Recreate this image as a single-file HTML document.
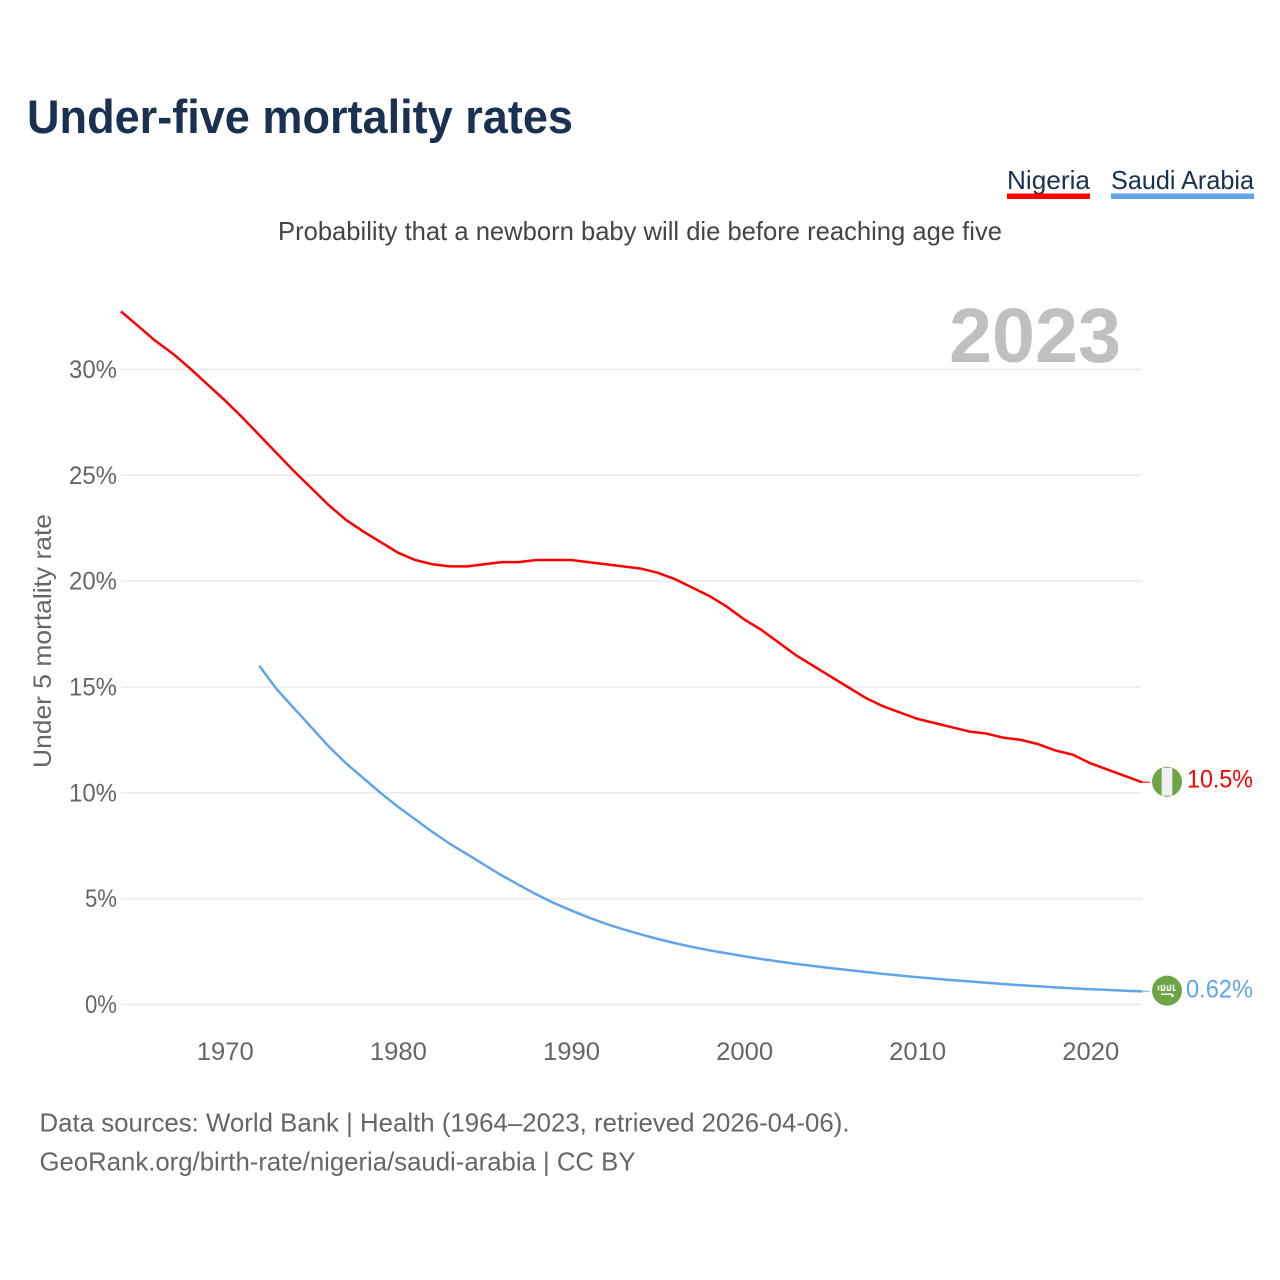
<!DOCTYPE html>
<html lang="en">
<head>
<meta charset="utf-8">
<title>Under-five mortality rates</title>
<style>
html,body{margin:0;padding:0;background:#fff;}
svg{display:block;}
text{font-family:"Liberation Sans",sans-serif;}
</style>
</head>
<body>
<svg id="chart" xmlns="http://www.w3.org/2000/svg" width="1280" height="1280" viewBox="0 0 1280 1280">
  <rect x="0" y="0" width="1280" height="1280" fill="#ffffff"/>
  <text x="27" y="133" font-size="47" font-weight="700" fill="#1a3151" textLength="546" lengthAdjust="spacingAndGlyphs">Under-five mortality rates</text>
  <g>
    <text x="1007" y="189" font-size="26" fill="#1a3151" textLength="83" lengthAdjust="spacingAndGlyphs">Nigeria</text>
    <rect x="1007" y="193.5" width="83" height="5.5" fill="#ff0000"/>
  </g>
  <g>
    <text x="1111" y="189" font-size="26" fill="#1a3151" textLength="143" lengthAdjust="spacingAndGlyphs">Saudi Arabia</text>
    <rect x="1111" y="193.5" width="143" height="5.5" fill="#60a5ea"/>
  </g>
  <text x="278" y="240" font-size="26" fill="#444444" textLength="724" lengthAdjust="spacingAndGlyphs">Probability that a newborn baby will die before reaching age five</text>
  <text transform="translate(51,768) rotate(-90)" x="0" y="0" font-size="25" fill="#666666" textLength="254" lengthAdjust="spacingAndGlyphs">Under 5 mortality rate</text>
  <g id="grid"></g>
  <g id="yticks"></g>
  <g id="xticks"></g>
  <text x="949" y="362" font-size="77" font-weight="700" fill="#c0c0c0" textLength="172" lengthAdjust="spacingAndGlyphs">2023</text>
  <g id="series"></g>
  <g id="flag-ng">
    <circle cx="0" cy="0" r="15" fill="#6da544"/>
    <rect x="-5.3" y="-14" width="10.6" height="28" fill="#f0f0f0"/>
  </g>
  <g id="flag-sa">
    <circle cx="0" cy="0" r="15" fill="#6da544"/>
    <path d="M-8.5 -5v4.5M-5.5 -6v5.5h3M-2.5 -6v5.5M0.5 -5v4.5h3M3.5 -6v5.5M6.5 -6v5.5h2M-6 3.5h11" fill="none" stroke="#f0f0f0" stroke-width="1.6"/>
    <circle cx="5.5" cy="5" r="1.4" fill="#f0f0f0"/>
  </g>
  <text id="value-ng" x="1187" font-size="25" fill="#ff0000" textLength="66" lengthAdjust="spacingAndGlyphs"></text>
  <text id="value-sa" x="1186" font-size="25" fill="#60a5ea" textLength="67" lengthAdjust="spacingAndGlyphs"></text>
  <text x="39.5" y="1131.5" font-size="26" fill="#666666" textLength="810" lengthAdjust="spacingAndGlyphs">Data sources: World Bank | Health (1964–2023, retrieved 2026-04-06).</text>
  <text x="39.5" y="1170.5" font-size="26" fill="#666666" textLength="596" lengthAdjust="spacingAndGlyphs">GeoRank.org/birth-rate/nigeria/saudi-arabia | CC BY</text>
</svg>
<script>
const yTickValues = [0, 5, 10, 15, 20, 25, 30];
const xTickYears = [1970, 1980, 1990, 2000, 2010, 2020];
const nigeriaStartYear = 1964;
const nigeriaValues = [32.75, 32.05, 31.35, 30.75, 30.05, 29.3, 28.55, 27.75, 26.9, 26.05, 25.2, 24.4, 23.6, 22.9, 22.35, 21.85, 21.35, 21.0, 20.8, 20.7, 20.7, 20.8, 20.9, 20.9, 21.0, 21.0, 21.0, 20.9, 20.8, 20.7, 20.6, 20.4, 20.1, 19.7, 19.3, 18.8, 18.2, 17.7, 17.1, 16.5, 16.0, 15.5, 15.0, 14.5, 14.1, 13.8, 13.5, 13.3, 13.1, 12.9, 12.8, 12.6, 12.5, 12.3, 12.0, 11.8, 11.4, 11.1, 10.8, 10.5];
const saudiStartYear = 1972;
const saudiValues = [16.0, 14.9, 14.0, 13.1, 12.2, 11.4, 10.7, 10.0, 9.35, 8.75, 8.15, 7.6, 7.1, 6.6, 6.1, 5.65, 5.2, 4.8, 4.45, 4.12, 3.82, 3.56, 3.32, 3.1, 2.9, 2.72, 2.56, 2.42, 2.28, 2.15, 2.03, 1.92, 1.82, 1.72, 1.63, 1.54, 1.45, 1.37, 1.29, 1.22, 1.15, 1.09, 1.03, 0.97, 0.91, 0.86, 0.81, 0.76, 0.72, 0.69, 0.65, 0.62];
const nigeriaLabel = "10.5%";
const saudiLabel = "0.62%";

const NS = "http://www.w3.org/2000/svg";
function xScale(year) { return 224.7 + (year - 1970) * 17.31; }
function yScale(v) { return 1004.5 - v * 21.167; }
function make(tag, parent) {
  const el = document.createElementNS(NS, tag);
  parent.appendChild(el);
  return el;
}
const grid = document.getElementById("grid");
const yticks = document.getElementById("yticks");
const xticks = document.getElementById("xticks");
const seriesGroup = document.getElementById("series");

yTickValues.forEach(function (v) {
  const line = make("line", grid);
  
  
  line.setAttribute("x1", 121);
  line.setAttribute("x2", 1142);
  line.setAttribute("y1", yScale(v));
  line.setAttribute("y2", yScale(v));
  line.setAttribute("stroke", "#ececec");
  line.setAttribute("stroke-width", 1.6);
  const label = make("text", yticks);
  
  
  const s = v + "%";
  label.textContent = s;
  label.setAttribute("x", 117);
  label.setAttribute("y", yScale(v) + 8.5);
  label.setAttribute("text-anchor", "end");
  label.setAttribute("font-size", 25);
  label.setAttribute("fill", "#666666");
  label.setAttribute("textLength", s.length * 16);
  label.setAttribute("lengthAdjust", "spacingAndGlyphs");
});

xTickYears.forEach(function (year) {
  const label = make("text", xticks);
  
  
  label.textContent = String(year);
  label.setAttribute("x", xScale(year) + 0.6);
  label.setAttribute("y", 1060);
  label.setAttribute("text-anchor", "middle");
  label.setAttribute("font-size", 25);
  label.setAttribute("fill", "#666666");
  label.setAttribute("textLength", 57);
  label.setAttribute("lengthAdjust", "spacingAndGlyphs");
});

function pointsFor(startYear, values) {
  return values.map(function (v, i) {
    return xScale(startYear + i).toFixed(2) + "," + yScale(v).toFixed(2);
  }).join(" ");
}

const nigeriaLine = make("polyline", seriesGroup);


nigeriaLine.setAttribute("points", pointsFor(nigeriaStartYear, nigeriaValues));
nigeriaLine.setAttribute("fill", "none");
nigeriaLine.setAttribute("stroke", "#ff0000");
nigeriaLine.setAttribute("stroke-width", 2.5);
nigeriaLine.setAttribute("stroke-linejoin", "round");

const saudiLine = make("polyline", seriesGroup);


saudiLine.setAttribute("points", pointsFor(saudiStartYear, saudiValues));
saudiLine.setAttribute("fill", "none");
saudiLine.setAttribute("stroke", "#60a5ea");
saudiLine.setAttribute("stroke-width", 2.5);
saudiLine.setAttribute("stroke-linejoin", "round");

const lastNg = yScale(nigeriaValues[nigeriaValues.length - 1]);
const lastSa = yScale(saudiValues[saudiValues.length - 1]);

const ngConn = make("line", seriesGroup);


ngConn.setAttribute("x1", 1141);
ngConn.setAttribute("x2", 1150);
ngConn.setAttribute("y1", lastNg);
ngConn.setAttribute("y2", lastNg);
ngConn.setAttribute("stroke", "#ff0000");
ngConn.setAttribute("stroke-opacity", 0.7);
ngConn.setAttribute("stroke-width", 1.5);

const saConn = make("line", seriesGroup);


saConn.setAttribute("x1", 1141);
saConn.setAttribute("x2", 1150);
saConn.setAttribute("y1", lastSa);
saConn.setAttribute("y2", lastSa);
saConn.setAttribute("stroke", "#60a5ea");
saConn.setAttribute("stroke-opacity", 0.7);
saConn.setAttribute("stroke-width", 1.5);

document.getElementById("flag-ng").setAttribute("transform", "translate(1167," + (lastNg - 0.5) + ")");
document.getElementById("flag-sa").setAttribute("transform", "translate(1167," + (lastSa - 0.7) + ")");
const valNg = document.getElementById("value-ng");
valNg.textContent = nigeriaLabel;
valNg.setAttribute("y", lastNg + 5.5);
const valSa = document.getElementById("value-sa");
valSa.textContent = saudiLabel;
valSa.setAttribute("y", lastSa + 6);
</script>
</body>
</html>
